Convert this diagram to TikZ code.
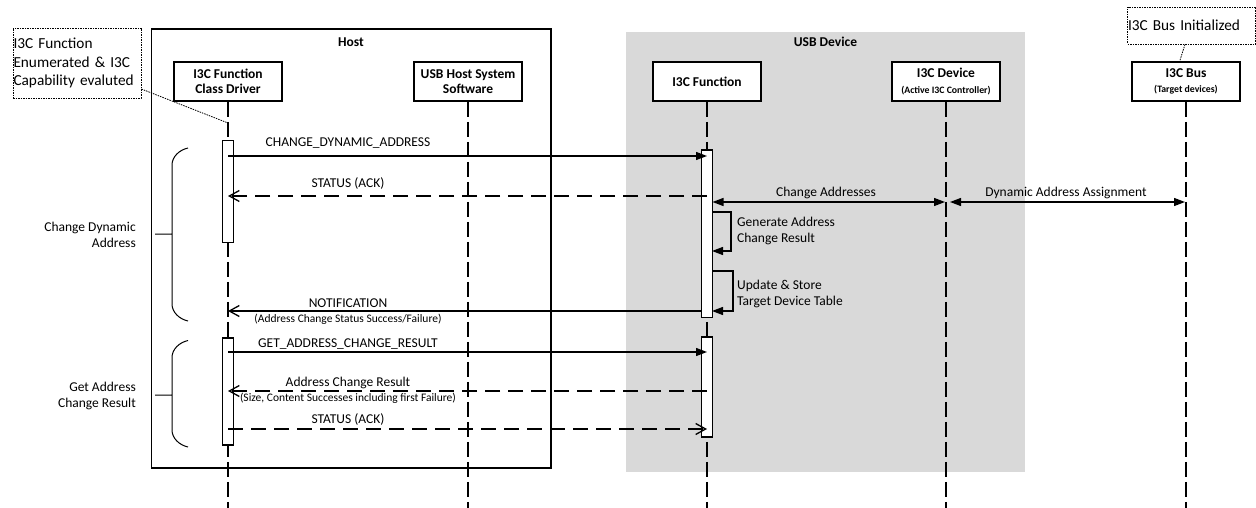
\documentclass[tikz,border=0pt]{standalone}
\usepackage{fontspec}
\setmainfont{Carlito}
\usepackage{tikz}
\usepackage{xcolor}
\usetikzlibrary{arrows.meta, positioning}
\definecolor{usbgray}{RGB}{217,217,217}

\begin{document}
\begin{tikzpicture}[x=1pt, y=-1pt,
    heads/.style={draw, line width=1.9pt, fill=white, minimum width=108pt, minimum height=39pt, inner sep=1pt, align=center, font=\fontsize{13.5}{15.5}\selectfont\bfseries},
    bars/.style={draw, line width=1.2pt, fill=white, minimum width=10.5pt, inner sep=0pt},
    lifeline/.style={line width=1.6pt, dash pattern=on 15pt off 5pt},
    call/.style={line width=1.3pt, -{Triangle[length=11pt,width=8pt]}},
    both/.style={line width=1.3pt, {Triangle[length=11pt,width=8pt]}-{Triangle[length=11pt,width=8pt]}},
    reply/.style={line width=1.3pt, dash pattern=on 15pt off 8pt, -{Straight Barb[length=10pt,width=11pt]}},
    notify/.style={line width=1.3pt, -{Straight Barb[length=10pt,width=11pt]}},
    txt/.style={font=\fontsize{13.5}{16}\selectfont, inner sep=0pt},
    small/.style={font=\fontsize{11.5}{13}\selectfont, inner sep=0pt},
    notes/.style={draw, line width=0.8pt, dash pattern=on 1.5pt off 1pt, align=left, inner sep=1pt, font=\fontsize{15.3}{18.5}\selectfont},
    brace/.style={line width=1pt}]

\useasboundingbox (0,0) rectangle (1256,508);

\fill[usbgray] (626,32) rectangle (1025,472);
\draw[line width=1.3pt] (151.5,29) rectangle (551,468);
\node[txt, font=\fontsize{13.5}{16}\selectfont\bfseries] (host) at (351,42) {Host};
\node[txt, font=\fontsize{13.5}{16}\selectfont\bfseries] (usb) at (825.5,42) {USB Device};

\node[heads] (cd) at (228,81.5) {I3C Function\\Class Driver};
\node[heads] (hs) at (468,81.5) {USB Host System\\Software};
\node[heads] (fn) at (707,81.5) {I3C Function};
\node[heads] (dv) at (946,81.5) {I3C Device\\{\fontsize{9.8}{11}\selectfont(Active I3C Controller)}};
\node[heads] (bus) at (1186,81.5) {I3C Bus\\{\fontsize{9.8}{11}\selectfont(Target devices)}};

\foreach \n/\x in {cd/228, hs/468, fn/707, dv/946, bus/1186}
    \coordinate (\n-end) at (\x,508);
\foreach \n in {cd, hs, fn, dv, bus}
    \draw[lifeline] (\n.south) -- (\n-end);

\node[notes, minimum width=128pt, minimum height=70pt, text width=127pt, inner xsep=0.5pt] (enum) at (77,63) {I3C Function\\Enumerated \& I3C\\Capability evaluted};
\node[notes, minimum width=128pt, minimum height=37pt, text width=127pt, inner xsep=0.5pt] (init) at (1191.5,25.5) {I3C Bus Initialized};
\coordinate (enum-pt) at (228,123);
\draw[line width=0.8pt, dash pattern=on 1.5pt off 1pt] (enum.-22) -- (enum-pt);
\draw[line width=0.8pt, dash pattern=on 1.5pt off 1pt] (init.251) -- (bus.107);

\node[bars, minimum height=102pt] (cdA) at (228,191.7) {};
\node[bars, minimum height=107pt] (cdB) at (228,391.5) {};
\node[bars, minimum height=167.7pt] (fnA) at (707,233.9) {};
\node[bars, minimum height=100pt] (fnB) at (707,387) {};

\coordinate (s1) at (228,156); \coordinate (e1) at (707,156);
\coordinate (s2) at (707,196); \coordinate (e2) at (228,196);
\coordinate (s3) at (712.5,202); \coordinate (e3) at (945,202);
\coordinate (s4) at (950,202); \coordinate (e4) at (1185,202);
\coordinate (s5) at (701.5,311); \coordinate (e5) at (228,311);
\coordinate (s6) at (228,352); \coordinate (e6) at (707,352);
\coordinate (s7) at (707,391); \coordinate (e7) at (228,391);
\coordinate (s8) at (228,429); \coordinate (e8) at (707,429);
\coordinate (g1) at (712,212); \coordinate (g2) at (712,251);
\coordinate (u1) at (712,271); \coordinate (u2) at (712,311);

\foreach \from/\to in {s1/e1, s6/e6} \draw[call] (\from) -- (\to);
\foreach \from/\to in {s3/e3, s4/e4} \draw[both] (\from) -- (\to);
\foreach \from/\to in {s2/e2, s7/e7, s8/e8} \draw[reply] (\from) -- (\to);
\draw[notify] (s5) -- (e5);
\draw[call] (g1) -- ++(19,0) |- (g2);
\draw[call] (u1) -- ++(21,0) |- (u2);

\node[txt] (l1) at (348,143) {CHANGE\_DYNAMIC\_ADDRESS};
\node[txt] (l2) at (348,183.3) {STATUS (ACK)};
\node[txt] (l3) at (826,192.7) {Change Addresses};
\node[txt] (l4) at (1066,192.7) {Dynamic Address Assignment};
\node[txt] (l5) at (348,302.7) {NOTIFICATION};
\node[small] (l5b) at (348,319.3) {(Address Change Status Success/Failure)};
\node[txt] (l6) at (348,344) {GET\_ADDRESS\_CHANGE\_RESULT};
\node[txt] (l7) at (348,382.7) {Address Change Result};
\node[small] (l7b) at (348,398.7) {(Size, Content Successes including first Failure)};
\node[txt] (l8) at (348,419) {STATUS (ACK)};
\node[txt, anchor=west, align=left] (gen) at (737,231.3) {Generate Address\\Change Result};
\node[txt, anchor=west, align=left] (upd) at (737,293.7) {Update \& Store\\Target Device Table};
\node[txt, anchor=east, align=right] (grp1) at (136,235) {Change Dynamic\\Address};
\node[txt, anchor=east, align=right] (grp2) at (136,395.5) {Get Address\\Change Result};

\foreach \t/\m/\b in {148/234/321, 340.5/395/447}
    \draw[brace] (188,\t) .. controls (179,\t+2) and (172,\t+9) .. (172,\t+17) -- (172,\b-17) .. controls (172,\b-9) and (179,\b-2) .. (188,\b) (155,\m) -- (172,\m);
\end{tikzpicture}
\end{document}
